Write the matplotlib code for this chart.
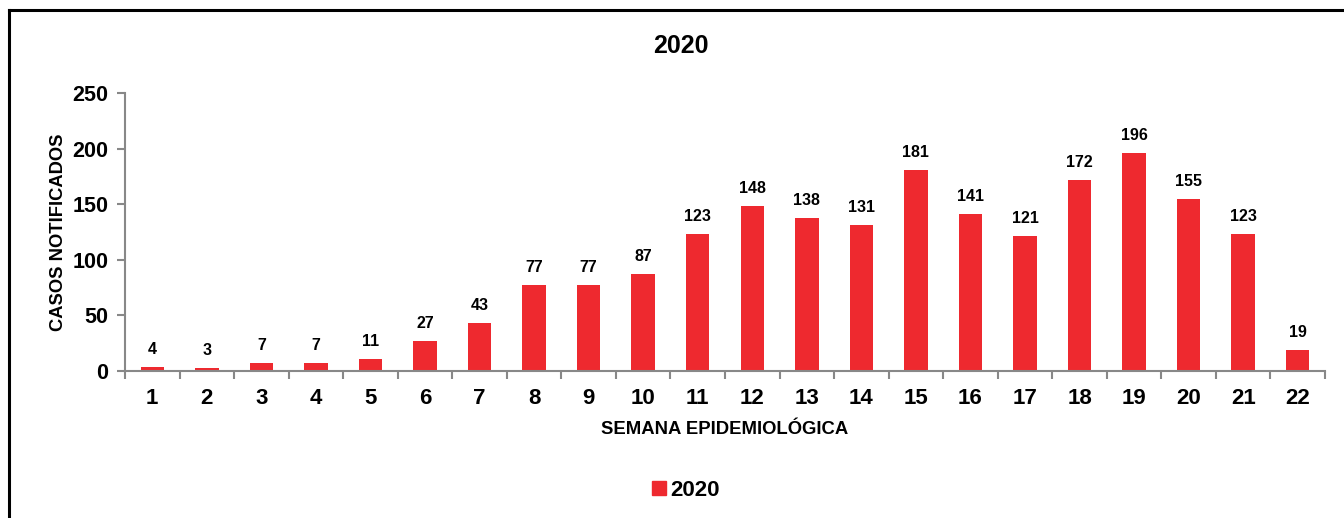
import matplotlib.pyplot as plt
from matplotlib.patches import Patch

plt.rcParams['font.family'] = ['Liberation Sans', 'DejaVu Sans']
plt.rcParams['font.weight'] = 'bold'

semanas = [str(i) for i in range(1, 23)]
casos = [4, 3, 7, 7, 11, 27, 43, 77, 77, 87, 123, 148, 138, 131, 181, 141, 121, 172, 196, 155, 123, 19]
rojo = '#EE292F'
gris = '#888888'

fig = plt.figure(figsize=(13.44, 5.18), dpi=100)
ax = fig.add_axes([125 / 1344, 1 - 371 / 518, 1200 / 1344, 278 / 518])

x = range(len(casos))
bars = ax.bar(x, casos, width=0.43, color=rojo, label='2020')

for xi, v in zip(x, casos):
    ax.text(xi, v + 9, str(v), ha='center', va='bottom', fontsize=11.5, fontweight='bold')

ax.set_xlim(-0.5, len(casos) - 0.5)
ax.set_ylim(0, 250)
ax.set_yticks([0, 50, 100, 150, 200, 250])
ax.set_xticks(list(x))
ax.set_xticklabels(semanas)
ax.set_xticks([i - 0.5 for i in range(len(casos) + 1)], minor=True)
ax.tick_params(axis='x', which='major', length=0, labelsize=16, pad=12)
ax.tick_params(axis='x', which='minor', length=6, color=gris, width=1.5, direction='out')
ax.tick_params(axis='y', length=6, color=gris, width=1.5, labelsize=15.5, pad=6)

for s in ['top', 'right']:
    ax.spines[s].set_visible(False)
for s in ['left', 'bottom']:
    ax.spines[s].set_color(gris)
    ax.spines[s].set_linewidth(1.5)

ax.set_xlabel('SEMANA EPIDEMIOLÓGICA', fontsize=13.3, fontweight='bold', labelpad=9)
ax.set_ylabel('CASOS NOTIFICADOS', fontsize=13.2, fontweight='bold', labelpad=4)
fig.text(681 / 1344, 1 - 46 / 518, '2020', ha='center', va='center', fontsize=18, fontweight='bold')

fig.legend(handles=[Patch(color=rojo, label='2020')], loc='center',
           bbox_to_anchor=(686 / 1344, 1 - 490 / 518), frameon=False,
           handlelength=0.6, handleheight=0.6, handletextpad=0.2,
           prop={'weight': 'bold', 'size': 16})

# marco de la imagen original (recortado abajo y a la derecha)
fig.add_artist(plt.Line2D([9 / 1344, 1], [1 - 10 / 518, 1 - 10 / 518], color='black', lw=2.2))
fig.add_artist(plt.Line2D([9 / 1344, 9 / 1344], [0, 1 - 10 / 518], color='black', lw=2.2))

fig.savefig('out.png', dpi=100)
